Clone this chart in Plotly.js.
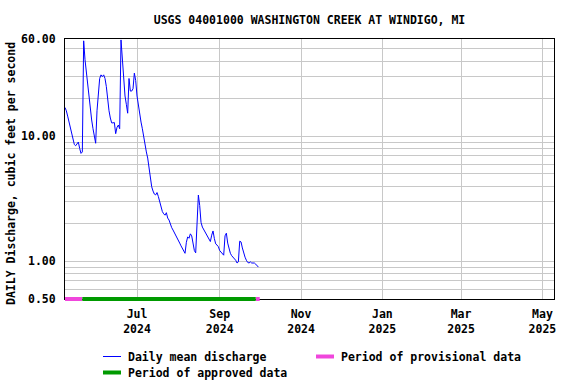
<!DOCTYPE html>
<html>
<head>
<meta charset="utf-8">
<script src="https://cdn.plot.ly/plotly-3.0.1.min.js"></script>
<style>html,body{margin:0;padding:0;background:#fff}#chart{width:576px;height:384px}</style>
</head>
<body>
<div id="chart"></div>
<script>
// ---- data ----
const startDate = '2024-05-08';
const discharge = [
  17, 16, 14.5, 13, 11.9, 10.3, 9.2, 8.6, 8.4, 8.8,
  9.0, 8.0, 7.3, 7.5, 58, 41, 33, 24, 19.5, 16.5,
  13.5, 11.5, 9.9, 8.8, 16, 23, 29, 31, 30, 31,
  29, 25, 19.5, 16, 14, 12.8, 12.8, 12.9, 10.5, 11.8,
  12.3, 11.5, 59, 40, 27, 21, 18, 15.3, 29, 23,
  23, 24, 32, 28, 21, 17.5, 15.7, 13, 11.5, 9.8,
  8.7, 7.5, 6.7, 5.5, 4.6, 3.95, 3.65, 3.45, 3.4, 3.55,
  3.3, 3.0, 2.75, 2.5, 2.4, 2.34, 2.45, 2.22, 2.14, 1.95,
  1.86, 1.78, 1.7, 1.65, 1.57, 1.47, 1.4, 1.33, 1.26, 1.21,
  1.16, 1.42, 1.57, 1.53, 1.66, 1.6, 1.4, 1.22, 1.17, 1.8,
  3.39, 2.8, 2.05, 1.88, 1.8, 1.72, 1.62, 1.56, 1.5, 1.44,
  1.62, 1.75, 1.52, 1.38, 1.35, 1.31, 1.22, 1.18, 1.14, 1.12,
  1.6, 1.68, 1.4, 1.24, 1.16, 1.11, 1.08, 1.05, 1.02, 0.97,
  0.99, 1.45, 1.43, 1.28, 1.14, 1.08, 1.02, 0.98, 0.97, 0.99,
  0.97, 0.97, 0.97, 0.95, 0.92, 0.9
];
const provisionalStart = ['2024-05-08', '2024-09-28'];
const provisionalEnd   = ['2024-05-21', '2024-10-01'];
const approvedStart = ['2024-05-21'];
const approvedEnd   = ['2024-09-28'];
const xTickVals = ['2024-07-01','2024-09-01','2024-11-01','2025-01-01','2025-03-01','2025-05-01'];
const xTickText = ['Jul<br>2024','Sep<br>2024','Nov<br>2024','Jan<br>2025','Mar<br>2025','May<br>2025'];
const yTickVals = [0.5,0.6,0.7,0.8,0.9,1,2,3,4,5,6,7,8,9,10,20,30,40,50,60];
const yTickText = ['0.50','','','','','1.00','','','','','','','','','10.00','','','','','60.00'];
const titleText = 'USGS 04001000 WASHINGTON CREEK AT WINDIGO, MI';
const yTitleText = 'DAILY Discharge, cubic feet per second';
const legendLabels = ['Daily mean discharge', 'Period of provisional data', 'Period of approved data'];

// ---- build ----
const dates = discharge.map((_, i) => {
  const d = new Date(startDate + 'T00:00:00Z');
  d.setUTCDate(d.getUTCDate() + i);
  return d.toISOString().slice(0, 10);
});

const W = 576, H = 384, L = 65, R = 554, T = 39, B = 299;
const px = x => (x - L) / (R - L);
const py = y => (B - y) / (B - T);

const BLUE = '#0000ff', PINK = '#f046dc', GREEN = '#009a00';
const FONT = {family: 'DejaVu Sans Mono, monospace', size: 11.5, color: '#000', weight: 'bold'};

const traces = [{
  x: dates, y: discharge, type: 'scatter', mode: 'lines',
  line: {color: BLUE, width: 1}, name: legendLabels[0], showlegend: false,
  hoverinfo: 'x+y'
}];

const shapes = [];
provisionalStart.forEach((s, i) => shapes.push({
  type: 'line', xref: 'x', yref: 'paper', x0: s, x1: provisionalEnd[i], y0: 0, y1: 0,
  line: {color: PINK, width: 4}, layer: 'above'
}));
approvedStart.forEach((s, i) => shapes.push({
  type: 'line', xref: 'x', yref: 'paper', x0: s, x1: approvedEnd[i], y0: 0, y1: 0,
  line: {color: GREEN, width: 4}, layer: 'above'
}));
// legend samples
shapes.push({type:'line', xref:'paper', yref:'paper', x0:px(103), x1:px(121), y0:py(356.5), y1:py(356.5), line:{color:BLUE, width:1}});
shapes.push({type:'line', xref:'paper', yref:'paper', x0:px(316), x1:px(334), y0:py(356.5), y1:py(356.5), line:{color:PINK, width:4}});
shapes.push({type:'line', xref:'paper', yref:'paper', x0:px(103), x1:px(121), y0:py(372.5), y1:py(372.5), line:{color:GREEN, width:4}});

const annotations = [
  {text: legendLabels[0], xref:'paper', yref:'paper', x:px(126), y:py(357), xanchor:'left', yanchor:'middle', showarrow:false, font:FONT},
  {text: legendLabels[1], xref:'paper', yref:'paper', x:px(339), y:py(357), xanchor:'left', yanchor:'middle', showarrow:false, font:FONT},
  {text: legendLabels[2], xref:'paper', yref:'paper', x:px(126), y:py(373), xanchor:'left', yanchor:'middle', showarrow:false, font:FONT},
  {text: yTitleText, xref:'paper', yref:'paper', x:px(11), y:py(174), xanchor:'center', yanchor:'middle', textangle:-90, showarrow:false, font:FONT}
];

const layout = {
  width: W, height: H,
  margin: {l: L, r: W - R, t: T, b: H - B, pad: 0},
  paper_bgcolor: '#fff', plot_bgcolor: '#fff',
  showlegend: false,
  font: FONT,
  title: {text: titleText, font: FONT, x: 0.5, xref: 'paper', xanchor: 'center',
          y: 1 - 20 / H, yref: 'container', yanchor: 'middle'},
  xaxis: {
    type: 'date', range: ['2024-05-08', '2025-05-09 16:00'],
    tickvals: xTickVals, ticktext: xTickText, tickangle: 0,
    showgrid: true, gridcolor: '#c8c8c8', gridwidth: 1,
    showline: true, mirror: true, linecolor: '#000', linewidth: 1,
    ticks: '', ticklabelstandoff: 4, tickfont: FONT, zeroline: false, fixedrange: true
  },
  yaxis: {
    type: 'log', range: [Math.log10(0.5), Math.log10(60)],
    tickvals: yTickVals, ticktext: yTickText,
    showgrid: true, gridcolor: '#c8c8c8', gridwidth: 1,
    showline: true, mirror: true, linecolor: '#000', linewidth: 1,
    ticks: '', ticklabelstandoff: 6, tickfont: FONT, zeroline: false, fixedrange: true
  },
  shapes: shapes,
  annotations: annotations
};

Plotly.newPlot('chart', traces, layout, {staticPlot: true, displayModeBar: false});
</script>
</body>
</html>
